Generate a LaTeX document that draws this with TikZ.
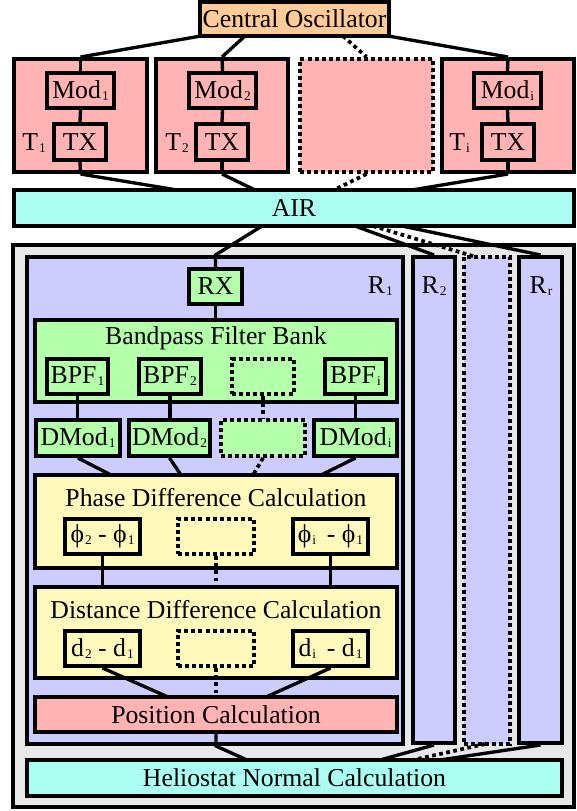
\documentclass[tikz,border=0pt]{standalone}
\usepackage{fontspec}
\setmainfont{Liberation Serif}
\usetikzlibrary{calc}
\definecolor{cOsc}{RGB}{255,204,153}
\definecolor{cPink}{RGB}{255,179,179}
\definecolor{cAir}{RGB}{170,255,242}
\definecolor{cGray}{RGB}{232,232,232}
\definecolor{cBlue}{RGB}{204,204,255}
\definecolor{cGreen}{RGB}{179,255,170}
\definecolor{cYellow}{RGB}{255,250,187}
\newcommand{\sbs}[1]{\kern0.8pt\raisebox{-1.5pt}{\fontsize{10}{10}\selectfont #1}}
\newcommand{\bnode}[7]{%
 \pgfmathsetmacro\bcx{(#3+#5)/2}\pgfmathsetmacro\bcy{(#4+#6)/2}%
 \pgfmathsetmacro\bw{(#5-#3-4)*0.75}\pgfmathsetmacro\bh{(#6-#4-4)*0.75}%
 \node[#2, minimum width=\bw pt, minimum height=\bh pt] (#1) at (\bcx,\bcy) {#7};}
\begin{document}
\begin{tikzpicture}[x=0.75pt,y=-0.75pt,
  box/.style={draw, line width=3pt, inner sep=0pt, font=\fontsize{19.3}{23}\selectfont},
  dotbox/.style={box, dash pattern=on 3pt off 2.3pt},
  lbl/.style={inner sep=0pt, font=\fontsize{19.3}{23}\selectfont},
  conn/.style={line width=2.5pt},
  dconn/.style={line width=2.8pt, dash pattern=on 2.8pt off 2.6pt}]
\useasboundingbox (0,0) rectangle (577,811);
% transmitters
\bnode{co}{box,fill=cOsc}{198}{0}{391}{38}{Central Oscillator}
\bnode{t1}{box,fill=cPink}{12}{57}{149}{174}{}
\bnode{t2}{box,fill=cPink}{154}{57}{290}{174}{}
\bnode{td}{dotbox,fill=cPink}{298}{57}{435}{174}{}
\bnode{ti}{box,fill=cPink}{440}{57}{576}{174}{}
\bnode{mod1}{box,fill=cPink}{45}{71}{116}{110}{Mod\sbs{1}}
\bnode{tx1}{box,fill=cPink}{52}{122}{108}{162}{TX}
\bnode{mod2}{box,fill=cPink}{187}{71}{258}{110}{Mod\sbs{2}}
\bnode{tx2}{box,fill=cPink}{194}{122}{250}{162}{TX}
\bnode{modi}{box,fill=cPink}{472}{71}{543}{110}{Mod\sbs{i}}
\bnode{txi}{box,fill=cPink}{480}{122}{536}{162}{TX}
\node[lbl, anchor=base west] (lt1) at (22,150) {T\sbs{1}};
\node[lbl, anchor=base west] (lt2) at (165,150) {T\sbs{2}};
\node[lbl, anchor=base west] (lti) at (449,150) {T\sbs{i}};
\bnode{air}{box,fill=cAir}{12}{188}{576}{228}{AIR}
% receivers
\bnode{rcv}{box,fill=cGray}{11}{243}{576}{809}{}
\bnode{r1}{box,fill=cBlue}{25}{255}{405}{746}{}
\bnode{r2}{box,fill=cBlue}{411}{255}{457}{745}{}
\bnode{rd}{dotbox,fill=cBlue}{462}{255}{512}{746}{}
\bnode{rr}{box,fill=cBlue}{517}{255}{564}{745}{}
\node[lbl, anchor=base east] (lr1) at (393,293) {R\sbs{1}};
\node[lbl, anchor=base] (lr2) at (434,293) {R\sbs{2}};
\node[lbl, anchor=base] (lrr) at (541,293) {R\sbs{r}};
\bnode{rx}{box,fill=cGreen}{187}{267}{244}{306}{RX}
\bnode{bfb}{box,fill=cGreen}{33}{318}{399}{404}{}
\node[lbl] (bfbt) at (216,338) {Bandpass Filter Bank};
\bnode{bpf1}{box,fill=cGreen}{45}{357}{110}{396}{BPF\sbs{1}}
\bnode{bpf2}{box,fill=cGreen}{137}{357}{203}{396}{BPF\sbs{2}}
\bnode{bpfd}{dotbox,fill=cGreen}{230}{357}{296}{396}{}
\bnode{bpfi}{box,fill=cGreen}{323}{357}{388}{396}{BPF\sbs{i}}
\bnode{dm1}{box,fill=cGreen}{34}{418}{122}{458}{DMod\sbs{1}}
\bnode{dm2}{box,fill=cGreen}{127}{418}{212}{458}{DMod\sbs{2}}
\bnode{dmd}{dotbox,fill=cGreen}{219}{418}{307}{458}{}
\bnode{dmi}{box,fill=cGreen}{312}{418}{399}{458}{DMod\sbs{i}}
\bnode{pdc}{box,fill=cYellow}{33}{473}{399}{570}{}
\node[lbl] (pdct) at (216,498) {Phase Difference Calculation};
\bnode{p21}{box,fill=cYellow}{63}{517}{142}{556}{ϕ\sbs{2} - ϕ\sbs{1}}
\bnode{pd}{dotbox,fill=cYellow}{176}{517}{256}{556}{}
\bnode{pi1}{box,fill=cYellow}{291}{517}{370}{556}{ϕ\sbs{i} \,- ϕ\sbs{1}}
\bnode{ddc}{box,fill=cYellow}{33}{585}{399}{680}{}
\node[lbl] (ddct) at (216,610) {Distance Difference Calculation};
\bnode{d21}{box,fill=cYellow}{63}{629}{142}{668}{d\sbs{2} - d\sbs{1}}
\bnode{dd}{dotbox,fill=cYellow}{176}{629}{256}{668}{}
\bnode{di1}{box,fill=cYellow}{291}{629}{370}{668}{d\sbs{i} \,- d\sbs{1}}
\bnode{pc}{box,fill=cPink}{33}{695}{399}{734}{Position Calculation}
\bnode{hn}{box,fill=cAir}{25}{758}{564}{798}{Heliostat Normal Calculation}
% connector end points
\coordinate (co1) at (201,36);
\coordinate (co2) at (245,36);
\coordinate (co3) at (343,36);
\coordinate (co4) at (388,36);
\coordinate (a1) at (177,190);
\coordinate (a2) at (255,190);
\coordinate (a3) at (334,190);
\coordinate (a4) at (412,190);
\coordinate (b1) at (262,226);
\coordinate (b2) at (355,226);
\coordinate (b3) at (373,226);
\coordinate (b4) at (402,226);
\coordinate (rdt) at (476,257);
\coordinate (p1) at (111,475);
\coordinate (p2) at (181,475);
\coordinate (p3) at (253,475);
\coordinate (p4) at (321,475);
\coordinate (q1) at (168,697);
\coordinate (q2) at (266,697);
\coordinate (h1) at (247,760);
\coordinate (h2) at (380,760);
\coordinate (h3) at (413,760);
\coordinate (h4) at (440,760);
\coordinate (rdb) at (485,744);
% transmitter connectors
\draw[conn] (co1) -- (t1.north);
\draw[conn] (co2) -- (t2.north);
\draw[dconn] (co3) -- (td.north);
\draw[conn] (co4) -- (ti.north);
\draw[conn] (t1.north) -- (mod1.north);
\draw[conn] (mod1.south) -- (tx1.north);
\draw[conn] (tx1.south) -- (t1.south);
\draw[conn] (t2.north) -- (mod2.north);
\draw[conn] (mod2.south) -- (tx2.north);
\draw[conn] (tx2.south) -- (t2.south);
\draw[conn] (ti.north) -- (modi.north);
\draw[conn] (modi.south) -- (txi.north);
\draw[conn] (txi.south) -- (ti.south);
\draw[conn] (t1.south) -- (a1);
\draw[conn] (t2.south) -- (a2);
\draw[dconn] (td.south) -- (a3);
\draw[conn] (ti.south) -- (a4);
% air to receivers
\draw[conn] (b1) -- (rx.north |- r1.north) -- (rx.north);
\draw[conn] (b2) -- (r2.north);
\draw[dconn] (b3) -- (rdt);
\draw[conn] (b4) -- (rr.north);
% receiver chain
\draw[conn] (rx.south) -- (rx.south |- bfb.north);
\draw[conn] (bpf1.south) -- (bpf1.south |- dm1.north);
\draw[conn] (bpf2.south) -- (bpf2.south |- dm2.north);
\draw[dconn] (bpfd.south) -- (bpfd.south |- dmd.north);
\draw[conn] (bpfi.south) -- (bpfi.south |- dmi.north);
\draw[conn] (dm1.south) -- (p1);
\draw[conn] (dm2.south) -- (p2);
\draw[dconn] (dmd.south) -- (p3);
\draw[conn] (dmi.south) -- (p4);
\draw[conn] (p21.south) -- (p21.south |- ddc.north);
\draw[dconn] (pd.south) -- (pd.south |- ddc.north);
\draw[conn] (pi1.south) -- (pi1.south |- ddc.north);
\draw[conn] (d21.south) -- (q1);
\draw[dconn] (dd.south) -- (dd.south |- pc.north);
\draw[conn] (di1.south) -- (q2);
\draw[conn] (pc.south) -- (pc.south |- r1.south) -- (h1);
\draw[conn] (r2.south) -- (h2);
\draw[dconn] (rdb) -- (h3);
\draw[conn] (rr.south) -- (h4);
\end{tikzpicture}
\end{document}
